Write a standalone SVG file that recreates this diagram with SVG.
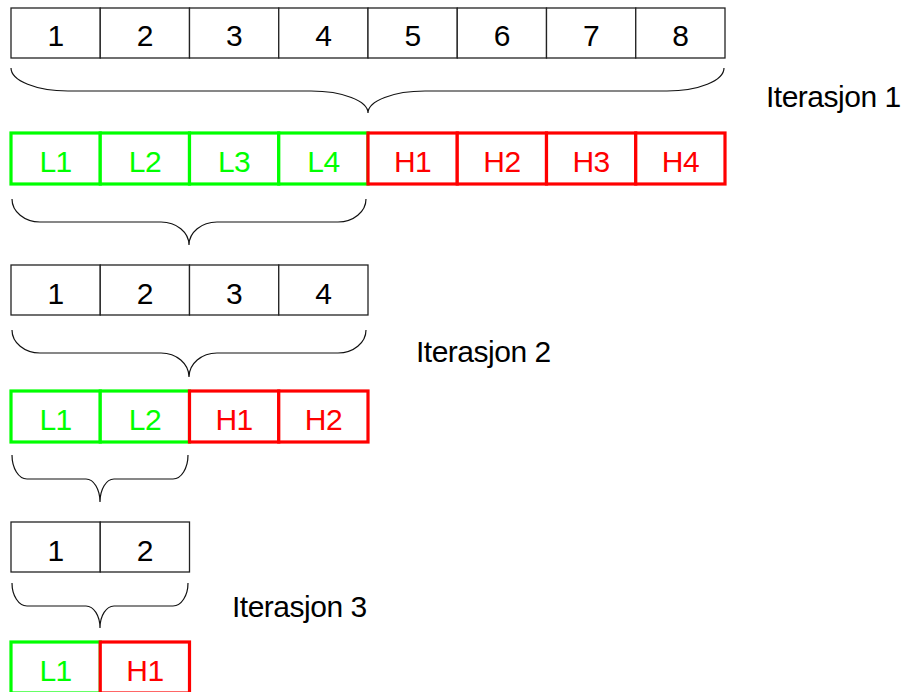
<svg xmlns="http://www.w3.org/2000/svg" width="904" height="692" viewBox="0 0 904 692">
  <style>
    text { font-family: "Liberation Sans", Arial, sans-serif; font-size: 30px; text-anchor: middle; letter-spacing: -0.5px; }
    .cell rect { fill: #ffffff; stroke: #222222; stroke-width: 1.3; }
    .cell text { fill: #000000; }
    .lo rect { fill: #ffffff; stroke: #00ff00; stroke-width: 3.2; }
    .lo text { fill: #00ff00; }
    .hi rect { fill: #ffffff; stroke: #ff0000; stroke-width: 3.2; }
    .hi text { fill: #ff0000; }
    .label { text-anchor: start; fill: #000000; }
    .brace { fill: none; stroke: #111111; stroke-width: 1.2; }
  </style>

  <!-- Iteration 1: input 1..8 -->
  <g id="row1">
    <g id="r1c1" class="cell"><rect x="11" y="8" width="89.25" height="50"/><text x="55.6" y="46">1</text></g>
    <g id="r1c2" class="cell"><rect x="100.25" y="8" width="89.25" height="50"/><text x="144.9" y="46">2</text></g>
    <g id="r1c3" class="cell"><rect x="189.5" y="8" width="89.25" height="50"/><text x="234.1" y="46">3</text></g>
    <g id="r1c4" class="cell"><rect x="278.75" y="8" width="89.25" height="50"/><text x="323.4" y="46">4</text></g>
    <g id="r1c5" class="cell"><rect x="368" y="8" width="89.25" height="50"/><text x="412.6" y="46">5</text></g>
    <g id="r1c6" class="cell"><rect x="457.25" y="8" width="89.25" height="50"/><text x="501.9" y="46">6</text></g>
    <g id="r1c7" class="cell"><rect x="546.5" y="8" width="89.25" height="50"/><text x="591.1" y="46">7</text></g>
    <g id="r1c8" class="cell"><rect x="635.75" y="8" width="89.25" height="50"/><text x="680.4" y="46">8</text></g>
  </g>

  <!-- Iteration 1: output L1..L4, H1..H4 -->
  <g id="row2">
    <g id="r2L1" class="lo"><rect x="11" y="133" width="89.25" height="51"/><text x="55.6" y="172">L1</text></g>
    <g id="r2L2" class="lo"><rect x="100.25" y="133" width="89.25" height="51"/><text x="144.9" y="172">L2</text></g>
    <g id="r2L3" class="lo"><rect x="189.5" y="133" width="89.25" height="51"/><text x="234.1" y="172">L3</text></g>
    <g id="r2L4" class="lo"><rect x="278.75" y="133" width="89.25" height="51"/><text x="323.4" y="172">L4</text></g>
    <g id="r2H1" class="hi"><rect x="368" y="133" width="89.25" height="51"/><text x="412.6" y="172">H1</text></g>
    <g id="r2H2" class="hi"><rect x="457.25" y="133" width="89.25" height="51"/><text x="501.9" y="172">H2</text></g>
    <g id="r2H3" class="hi"><rect x="546.5" y="133" width="89.25" height="51"/><text x="591.1" y="172">H3</text></g>
    <g id="r2H4" class="hi"><rect x="635.75" y="133" width="89.25" height="51"/><text x="680.4" y="172">H4</text></g>
  </g>

  <!-- Iteration 2: input 1..4 -->
  <g id="row3">
    <g id="r3c1" class="cell"><rect x="11" y="265" width="89.25" height="50"/><text x="55.6" y="304">1</text></g>
    <g id="r3c2" class="cell"><rect x="100.25" y="265" width="89.25" height="50"/><text x="144.9" y="304">2</text></g>
    <g id="r3c3" class="cell"><rect x="189.5" y="265" width="89.25" height="50"/><text x="234.1" y="304">3</text></g>
    <g id="r3c4" class="cell"><rect x="278.75" y="265" width="89.25" height="50"/><text x="323.4" y="304">4</text></g>
  </g>

  <!-- Iteration 2: output L1, L2, H1, H2 -->
  <g id="row4">
    <g id="r4L1" class="lo"><rect x="11" y="391" width="89.25" height="51"/><text x="55.6" y="430">L1</text></g>
    <g id="r4L2" class="lo"><rect x="100.25" y="391" width="89.25" height="51"/><text x="144.9" y="430">L2</text></g>
    <g id="r4H1" class="hi"><rect x="189.5" y="391" width="89.25" height="51"/><text x="234.1" y="430">H1</text></g>
    <g id="r4H2" class="hi"><rect x="278.75" y="391" width="89.25" height="51"/><text x="323.4" y="430">H2</text></g>
  </g>

  <!-- Iteration 3: input 1, 2 -->
  <g id="row5">
    <g id="r5c1" class="cell"><rect x="11" y="522" width="89.25" height="50"/><text x="55.6" y="561">1</text></g>
    <g id="r5c2" class="cell"><rect x="100.25" y="522" width="89.25" height="50"/><text x="144.9" y="561">2</text></g>
  </g>

  <!-- Iteration 3: output L1, H1 -->
  <g id="row6">
    <g id="r6L1" class="lo"><rect x="11" y="642" width="89.25" height="51"/><text x="55.6" y="681">L1</text></g>
    <g id="r6H1" class="hi"><rect x="100.25" y="642" width="89.25" height="51"/><text x="144.9" y="681">H1</text></g>
  </g>

  <!-- Braces joining each row to the next -->
  <g id="connectors">
    <path id="brace1" class="brace" d="M11,68 A57,23 0 0 0 68,91 H311 A57,22 0 0 1 368,113 A57,22 0 0 1 425,91 H667 A57,23 0 0 0 724,68"/>
    <path id="brace2" class="brace" d="M12,199 A28,23 0 0 0 40,222 H161 A28,23 0 0 1 189,245 A28,23 0 0 1 217,222 H338 A28,23 0 0 0 366,199"/>
    <path id="brace3" class="brace" d="M12,330 A28,23 0 0 0 40,353 H161 A28,24 0 0 1 189,377 A28,24 0 0 1 217,353 H338 A28,23 0 0 0 366,330"/>
    <path id="brace4" class="brace" d="M12,455 A15,24 0 0 0 27,479 H86 A14,23 0 0 1 100,502 A14,23 0 0 1 114,479 H173 A15,24 0 0 0 188,455"/>
    <path id="brace5" class="brace" d="M12,583 A15,23 0 0 0 27,606 H86 A14,22 0 0 1 100,628 A14,22 0 0 1 114,606 H173 A15,23 0 0 0 188,583"/>
  </g>

  <!-- Iteration labels -->
  <g id="labels">
    <text class="label" x="766" y="107">Iterasjon 1</text>
    <text class="label" x="416" y="362">Iterasjon 2</text>
    <text class="label" x="232" y="617">Iterasjon 3</text>
  </g>
</svg>
